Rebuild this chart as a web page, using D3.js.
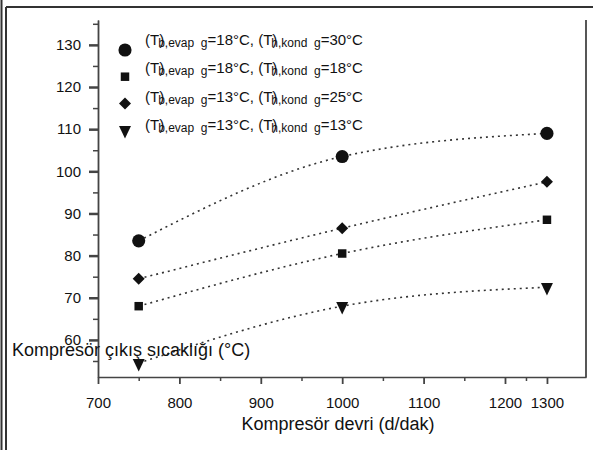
<!DOCTYPE html>
<html>
<head>
<meta charset="utf-8">
<script src="https://cdn.jsdelivr.net/npm/d3@7"></script>
<style>
  body { margin: 0; background: #fff; }
  svg { font-family: "Liberation Sans", Arial, sans-serif; }
  .axis path, .axis line { stroke: #444; }
  .axis text { fill: #111; font-size: 15px; font-family: "Liberation Sans", Arial, sans-serif; }
</style>
</head>
<body>
<script>
// compressor speed (d/dak)
var speeds = [750, 1000, 1300];

// compressor outlet temperature (°C) for each case
var tEvap18Kond30 = [83.5, 103.5, 109];
var tEvap18Kond18 = [68, 80.5, 88.5];
var tEvap13Kond25 = [74.5, 86.5, 97.5];
var tEvap13Kond13 = [54.5, 68, 72.5];

// legend texts
var evapLabels = ["=18°C, (T)", "=18°C, (T)", "=13°C, (T)", "=13°C, (T)"];
var kondLabels = ["=30°C", "=18°C", "=25°C", "=13°C"];

// tick values
var xMajorTicks = [700, 800, 900, 1000, 1100, 1200, 1300];
var xMinorTicks = [750, 850, 950, 1050, 1150, 1250];
var yMajorTicks = [60, 70, 80, 90, 100, 110, 120, 130];
var yMinorTicks = [55, 65, 75, 85, 95, 105, 115, 125, 135];

var svgWidth = 593;
var svgHeight = 450;

var margin = { top: 20, right: 7, bottom: 73, left: 98 };
var chartWidth = svgWidth - margin.left - margin.right;
var chartHeight = svgHeight - margin.top - margin.bottom;

var svg = d3.select("body")
  .append("svg")
  .attr("width", svgWidth)
  .attr("height", svgHeight);

svg.append("rect")
  .attr("width", svgWidth)
  .attr("height", svgHeight)
  .attr("fill", "#fff");

// outer frame (double line on the left, single on top)
svg.append("line").attr("x1", 1.5).attr("x2", 1.5).attr("y1", 0).attr("y2", svgHeight)
  .attr("stroke", "#333").attr("stroke-width", 2);
svg.append("line").attr("x1", 6).attr("x2", 6).attr("y1", 7).attr("y2", svgHeight)
  .attr("stroke", "#333").attr("stroke-width", 2);
svg.append("line").attr("x1", 6).attr("x2", svgWidth).attr("y1", 7).attr("y2", 7)
  .attr("stroke", "#333").attr("stroke-width", 2);

var chartGroup = svg.append("g")
  .attr("transform", `translate(${margin.left}, ${margin.top})`);

// the printed axis is not evenly spaced near its end, so the scale is piecewise
var xScale = d3.scaleLinear()
  .domain([700, 1200, 1300, 1350])
  .range([0, chartWidth * 0.834, chartWidth * 0.92, chartWidth]);

var yScale = d3.scaleLinear()
  .domain([51.2, 135.9])
  .range([chartHeight, 0]);

// x axis: minor then major ticks
chartGroup.append("g")
  .classed("axis", true)
  .attr("transform", `translate(0, ${chartHeight})`)
  .call(d3.axisBottom(xScale).tickValues(xMinorTicks).tickSize(4).tickSizeOuter(0).tickFormat(""))
  .call(g => g.selectAll("line").attr("stroke-width", 1.5));

chartGroup.append("g")
  .classed("axis", true)
  .attr("transform", `translate(0, ${chartHeight})`)
  .call(d3.axisBottom(xScale).tickValues(xMajorTicks).tickSize(7).tickSizeOuter(0)
    .tickPadding(13).tickFormat(d3.format("d")))
  .call(g => g.select(".domain").attr("stroke-width", 1.5))
  .call(g => g.selectAll(".tick line").attr("stroke-width", 1.8));

// y axis
chartGroup.append("g")
  .classed("axis", true)
  .call(d3.axisLeft(yScale).tickValues(yMinorTicks).tickSize(5).tickSizeOuter(0).tickFormat(""))
  .call(g => g.selectAll("line").attr("stroke-width", 1.5));

chartGroup.append("g")
  .classed("axis", true)
  .call(d3.axisLeft(yScale).tickValues(yMajorTicks).tickSize(9).tickSizeOuter(0)
    .tickPadding(8).tickFormat(d3.format("d")))
  .call(g => g.select(".domain").attr("stroke-width", 1.8))
  .call(g => g.selectAll(".tick line").attr("stroke-width", 2.5));

// right border of the plot
chartGroup.append("line")
  .attr("x1", chartWidth).attr("x2", chartWidth)
  .attr("y1", 0).attr("y2", chartHeight)
  .attr("stroke", "#444").attr("stroke-width", 1.8);

var series = [
  { values: tEvap18Kond30, symbol: d3.symbolCircle, size: 135, rotate: 0, sy: 1 },
  { values: tEvap18Kond18, symbol: d3.symbolSquare, size: 72, rotate: 0, sy: 1 },
  { values: tEvap13Kond25, symbol: d3.symbolSquare, size: 72, rotate: 45, sy: 1 },
  { values: tEvap13Kond13, symbol: d3.symbolTriangle, size: 62, rotate: 180, sy: 1.2 }
];

var line = d3.line()
  .x(d => xScale(d[0]))
  .y(d => yScale(d[1]))
  .curve(d3.curveMonotoneX);

series.forEach(function(s) {
  var pts = speeds.map((x, i) => [x, s.values[i]]);

  chartGroup.append("path")
    .datum(pts)
    .attr("d", line)
    .attr("fill", "none")
    .attr("stroke", "#333")
    .attr("stroke-width", 1.6)
    .attr("stroke-dasharray", "2,4");

  chartGroup.selectAll(null)
    .data(pts)
    .enter()
    .append("path")
    .attr("d", d3.symbol().type(s.symbol).size(s.size))
    .attr("transform", d => `translate(${xScale(d[0])}, ${yScale(d[1])}) rotate(${s.rotate}) scale(1, ${s.sy})`)
    .attr("fill", "#111");
});

// legend
var legend = svg.append("g");
series.forEach(function(s, i) {
  legend.append("path")
    .attr("d", d3.symbol().type(s.symbol).size(s.size))
    .attr("transform", `translate(125, ${50 + i * 26.7}) rotate(${s.rotate}) scale(1, ${s.sy})`)
    .attr("fill", "#111");

  var t = legend.append("text")
    .attr("x", 145)
    .attr("y", 45 + i * 28.3)
    .attr("font-size", 15)
    .attr("fill", "#111");
  t.append("tspan").text("(T)");
  t.append("tspan").attr("font-size", 12).attr("dx", -6).attr("dy", 2).text("b,evap\u00a0\u00a0g");
  t.append("tspan").attr("dy", -2).text(evapLabels[i]);
  t.append("tspan").attr("font-size", 12).attr("dx", -6).attr("dy", 2).text("h,kond\u00a0\u00a0g");
  t.append("tspan").attr("dy", -2).text(kondLabels[i]);
});

// axis titles
svg.append("text")
  .attr("x", 338)
  .attr("y", 430)
  .attr("text-anchor", "middle")
  .attr("font-size", 18)
  .attr("fill", "#111")
  .text("Kompresör devri (d/dak)");

svg.append("text")
  .attr("x", 12)
  .attr("y", 356)
  .attr("font-size", 18)
  .attr("fill", "#111")
  .text("Kompresör çıkış sıcaklığı (°C)");
</script>
</body>
</html>
